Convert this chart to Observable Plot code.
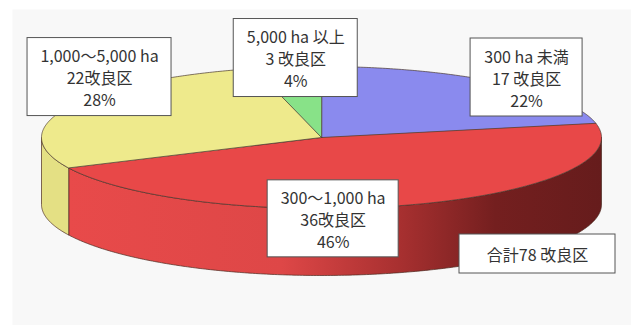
<!DOCTYPE html>
<html><head><meta charset="utf-8">
<script src="https://cdn.jsdelivr.net/npm/d3@7"></script>
<script src="https://cdn.jsdelivr.net/npm/@observablehq/plot@0.6"></script>
<style>body{margin:0;background:#fff}#chart svg{display:block}</style>
</head><body><div id="chart"></div>
<script>
// ---- data ----
const categories = ["300 ha 未満", "300～1,000 ha", "1,000～5,000 ha", "5,000 ha 以上"];
const counts = [17, 36, 22, 3];
const countLabels = ["17 改良区", "36改良区", "22改良区", "3 改良区"];
const percentLabels = ["22%", "46%", "28%", "4%"];
const totalLabel = "合計78 改良区";

// ---- styles / layout ----
const topColors = ["#8a8aee", "#e84848", "#eeea8c", "#88e288"];
const sideColors = ["#6e6ed0", "url(#redSide)", "#e4e084", "#70c870"];
const X0 = 41, X1 = 601, YT = 66, YB = 208;
const PX = (X1 - X0) / 2, PY = (YB - YT) / 2;
const DEPTH = 67 / PY;
// label box offsets (px) from slice mid-angle point on the rim, and box sizes (px)
const labelLayout = [
  {dx: 28, dy: -5, w: 112, h: 78},
  {dx: -77, dy: 14, w: 131, h: 77},
  {dx: 31, dy: -30, w: 144, h: 78},
  {dx: 8, dy: -9, w: 124, h: 78}
];
const totalLayout = {x: 216 / PX, y: -116.5 / PY, w: 156, h: 39};

const arcs = d3.pie().sort(null).value(d => d)(counts);
const pt = (a, off = 0) => ({x: Math.sin(a), y: Math.cos(a) - off});
function arcPts(a0, a1, off = 0) {
  const n = Math.max(2, Math.ceil((a1 - a0) / 0.01));
  return d3.range(n + 1).map(i => pt(a0 + (a1 - a0) * i / n, off));
}
const tops = [], sides = [];
arcs.forEach((a, i) => {
  [{x: 0, y: 0}, ...arcPts(a.startAngle, a.endAngle)].forEach(p => tops.push({...p, id: i, fill: topColors[i]}));
  const b0 = Math.max(a.startAngle, Math.PI / 2), b1 = Math.min(a.endAngle, 3 * Math.PI / 2);
  if (b1 > b0) {
    [...arcPts(b0, b1), ...arcPts(b0, b1, DEPTH).reverse()].forEach(p => sides.push({...p, id: i, fill: sideColors[i]}));
  }
});
const labels = arcs.map((a, i) => {
  const m = (a.startAngle + a.endAngle) / 2, L = labelLayout[i];
  const x = Math.sin(m) + L.dx / PX, y = Math.cos(m) - L.dy / PY;
  return {x, y, x1: x - L.w / 2 / PX, x2: x + L.w / 2 / PX, y1: y - L.h / 2 / PY, y2: y + L.h / 2 / PY,
    text: `${categories[i]}\n${countLabels[i]}\n${percentLabels[i]}`};
});
const T = totalLayout;
labels.push({x: T.x, y: T.y, x1: T.x - T.w / 2 / PX, x2: T.x + T.w / 2 / PX, y1: T.y - T.h / 2 / PY, y2: T.y + T.h / 2 / PY, text: totalLabel});

const defs = () => {
  const d = d3.create("svg:defs");
  const g = d.append("linearGradient").attr("id", "redSide").attr("x1", 0).attr("x2", 1).attr("y1", 0).attr("y2", 0);
  [[0, "#e84a4a"], [0.4, "#de4747"], [0.62, "#a83030"], [0.8, "#741f1f"], [1, "#661c1c"]]
    .forEach(([o, c]) => g.append("stop").attr("offset", o).attr("stop-color", c));
  return d.node();
};

const chart = Plot.plot({
  width: 631, height: 325, margin: 0,
  style: {background: "#fff", overflow: "visible"},
  x: {domain: [-1, 1], range: [X0, X1], axis: null},
  y: {domain: [-1, 1], range: [YB, YT], axis: null},
  color: {type: "identity"},
  marks: [
    Plot.frame({fill: "#f8f8f8", stroke: null, insetLeft: 12, insetTop: 9}),
    defs,
    Plot.line(sides, {x: "x", y: "y", z: "id", fill: "fill", stroke: "#4a2a20", strokeWidth: 0.7, curve: "linear-closed"}),
    Plot.line(tops, {x: "x", y: "y", z: "id", fill: "fill", stroke: "#4a3a30", strokeWidth: 0.7, curve: "linear-closed"}),
    Plot.rect(labels, {x1: "x1", x2: "x2", y1: "y1", y2: "y2", fill: "#fff", stroke: "#555", strokeWidth: 1}),
    Plot.text(labels, {x: "x", y: "y", text: "text", fontSize: 16, lineHeight: 1.38, fill: "#333",
      fontFamily: "'Noto Sans CJK JP', 'Noto Sans', sans-serif"})
  ]
});
document.getElementById("chart").append(chart);
</script>
</body></html>
